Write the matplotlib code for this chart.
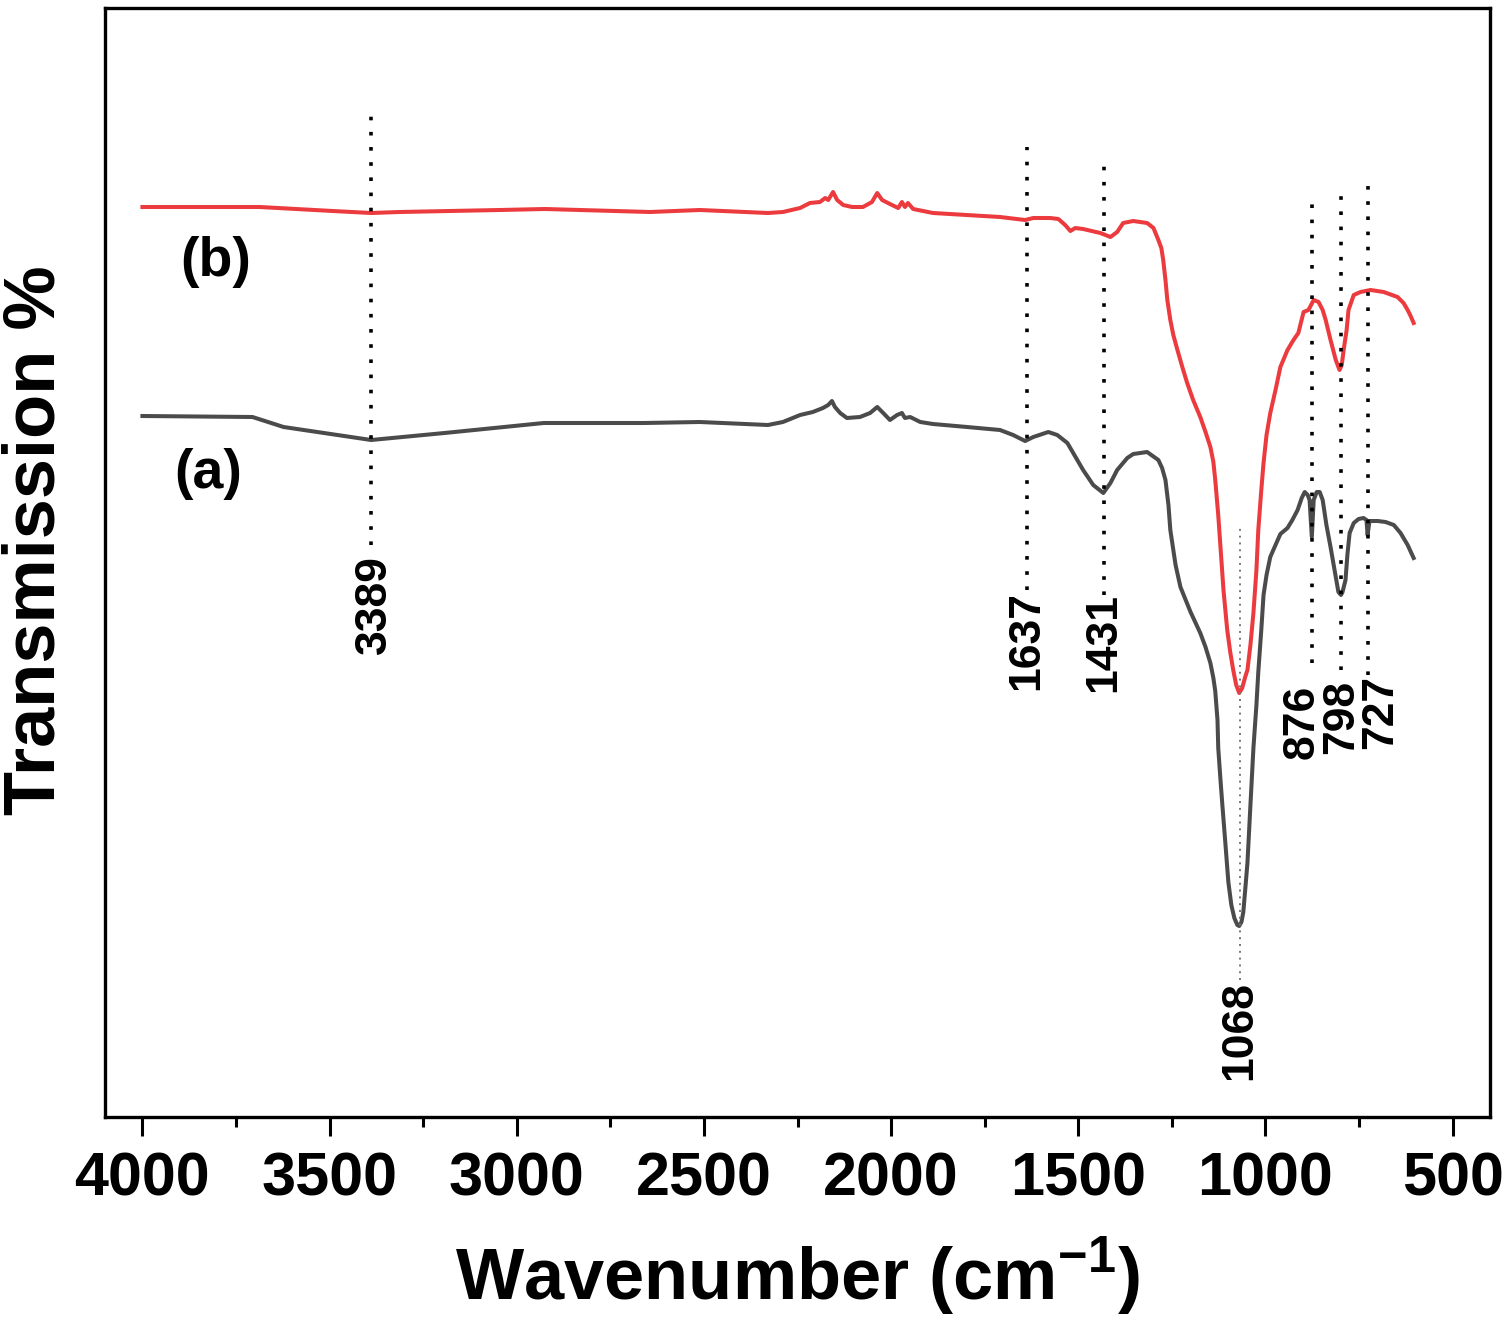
import numpy as np
from matplotlib import pyplot as plt
from matplotlib.ticker import MultipleLocator

plt.rcParams['font.family'] = ['Liberation Sans', 'DejaVu Sans']
plt.rcParams['mathtext.fontset'] = 'custom'
plt.rcParams['mathtext.rm'] = 'Liberation Sans'
plt.rcParams['mathtext.bf'] = 'Liberation Sans:bold'

# spectrum (a), grey
wn_a = [4000, 3706, 3623, 3389, 3193, 2928, 2660, 2511,
        2329, 2289, 2243, 2209, 2182, 2168, 2158, 2150, 2136, 2118, 2083, 2056,
        2037, 2021, 2003, 1984, 1971, 1963, 1949, 1922, 1888,
        1797, 1709, 1674, 1642, 1620, 1580, 1556, 1529, 1487, 1460, 1433, 1414,
        1396, 1369, 1353, 1316, 1286,
        1276, 1267, 1259, 1254, 1240, 1227, 1200, 1174, 1160, 1147, 1139, 1134,
        1128, 1126, 1120, 1115, 1107, 1099, 1091, 1083, 1075, 1070, 1064, 1059,
        1054, 1048, 1040, 1032, 1024, 1019, 1011, 1005, 997, 987, 973, 960, 941,
        928, 914, 903, 895, 887, 882, 876, 871, 863, 855, 847, 837, 826, 812,
        805, 798, 794, 786, 781, 775, 764, 751, 738, 730, 727, 722, 700, 679,
        657, 639, 620, 604]
tr_a = [701, 700, 690, 677, 684, 694, 694, 695,
        692, 695, 702, 705, 709, 712, 716, 710, 704, 699, 700, 704,
        710, 704, 697, 702, 704, 699, 700, 695, 693,
        690, 687, 682, 676, 680, 685, 682, 674, 647, 632, 624, 634,
        647, 659, 663, 665, 657,
        649, 637, 612, 587, 552, 530, 505, 484, 470, 454, 439, 426,
        397, 369, 337, 312, 274, 235, 212, 199, 192, 191, 195, 205,
        227, 254, 312, 369, 412, 445, 487, 522, 542, 560, 572, 583, 589,
        597, 607, 619, 625, 622, 617, 580, 617, 625, 625, 617, 592, 570, 540,
        525, 522, 525, 537, 562, 584, 594, 598, 599, 597, 582, 596, 596, 595,
        592, 584, 572, 559]

# spectrum (b), red
wn_b = [4000, 3687, 3492, 3389, 3313, 3045, 2925, 2644, 2511,
        2329, 2289, 2243, 2217, 2190, 2176, 2168, 2155, 2144, 2128, 2104, 2075,
        2051, 2037, 2024, 2003, 1981, 1971, 1963, 1955, 1941, 1888,
        1709, 1642, 1620, 1575, 1553, 1535, 1521, 1508, 1487, 1441, 1414, 1396,
        1380, 1353, 1316, 1299,
        1286, 1278, 1273, 1267, 1262, 1254, 1246, 1235, 1222, 1209, 1193, 1174,
        1160, 1147, 1139, 1134, 1126, 1120, 1112, 1102, 1094, 1086, 1078, 1070,
        1062, 1054, 1048, 1040, 1032, 1024, 1019, 1011, 1005, 997, 987, 973,
        960, 941, 925, 912, 898, 885, 871, 858, 847, 839, 826, 812, 802, 796,
        791, 783, 778, 764, 746, 719, 684, 647, 631, 620, 612, 604]
tr_b = [910, 910, 906, 904, 905, 907, 908, 905, 907,
        904, 905, 909, 914, 915, 919, 917, 925, 917, 912, 910, 910,
        915, 924, 917, 913, 909, 915, 910, 914, 908, 904,
        900, 897, 899, 899, 898, 892, 886, 889, 888, 884, 880, 885,
        894, 896, 894, 889,
        877, 869, 857, 837, 817, 797, 782, 767, 750, 734, 717, 700,
        685, 670, 655, 637, 602, 570, 527, 487, 465, 447, 432, 424,
        429, 440, 447, 472, 504, 547, 587, 627, 654, 682, 704, 727,
        750, 767, 777, 784, 805, 807, 817, 815, 807, 797, 777, 757, 747, 752,
        767, 787, 807, 822, 825, 827, 825, 820, 814, 807, 801, 794]

# marked bands: position, dotted line top / bottom, label centre
peaks = ['3389', '1637', '1431', '876', '798', '727']
peak_wn = [3389, 1637, 1431, 876, 798, 727]
line_top = [1002, 970, 961, 920, 927, 931]
line_bot = [572, 527, 522, 454, 447, 442]
label_y = [512, 476, 475, 395, 400, 405]
label_dx = [-8, 0, 0, 27, -2, -36]

fig = plt.figure(figsize=(15.08, 13.26), dpi=100)
ax = fig.add_axes([105/1508, 1 - 1117/1326, 1385/1508, 1109/1326])

ax.plot(wn_a, tr_a, color='#4b4b4b', lw=2.9, solid_joinstyle='round')
ax.plot(wn_b, tr_b, color='#ec3b3e', lw=2.9, solid_joinstyle='round')

for name, w, t, b, ly, dx in zip(peaks, peak_wn, line_top, line_bot, label_y, label_dx):
    ax.plot([w, w], [b, t], color='black', lw=2.6, linestyle=(0, (1, 3.2)))
    ax.text(w + dx, ly, name, rotation=90, ha='center', va='center',
            fontsize=32, fontweight='bold')

# 1068 band, finer grey dots
ax.plot([1068, 1068], [137, 592], color='#777777', lw=1.4, linestyle=(0, (1, 2.5)))
ax.text(1068, 87, '1068', rotation=90, ha='center', va='center',
        fontsize=32, fontweight='bold')

ax.text(3803, 855, '(b)', ha='center', va='center', fontsize=40, fontweight='bold')
ax.text(3824, 643, '(a)', ha='center', va='center', fontsize=40, fontweight='bold')

ax.set_xlim(4100, 400)
ax.set_ylim(0, 1109)
ax.xaxis.set_major_locator(MultipleLocator(500))
ax.xaxis.set_minor_locator(MultipleLocator(250))
ax.tick_params(axis='x', which='major', direction='out', length=14, width=2.2,
               labelsize=44, pad=11)
ax.tick_params(axis='x', which='minor', direction='out', length=7, width=2.2)
ax.tick_params(axis='y', left=False, labelleft=False)
for lbl in ax.get_xticklabels():
    lbl.set_fontweight('bold')
for s in ax.spines.values():
    s.set_linewidth(2.4)

ax.set_xlabel(r'Wavenumber (cm$^{\mathbf{-1}}$)', fontsize=52, fontweight='bold', labelpad=19)
fig.text(36/1508, 1 - 540/1326, 'Transmission %', rotation=90, ha='center', va='center',
         fontsize=52, fontweight='bold')

fig.savefig('out.png', dpi=100, facecolor='white')
